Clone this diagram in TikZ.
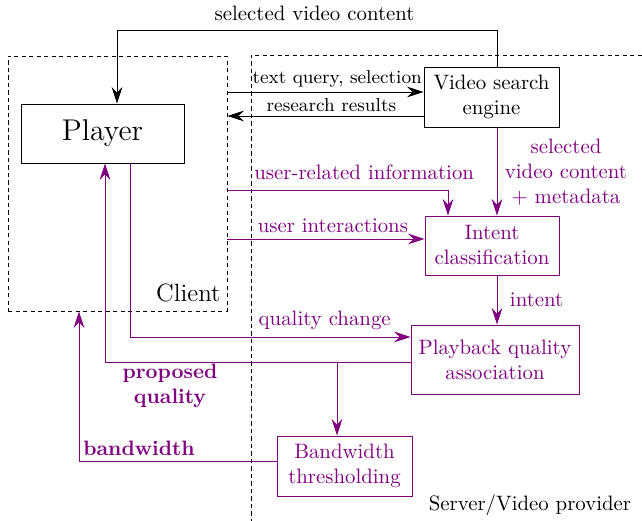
\documentclass[tikz,border=0pt]{standalone}
\usetikzlibrary{arrows.meta}
\definecolor{vidpurple}{RGB}{128,0,128}
\newlength\px
\setlength\px{0.48pt}
\begin{document}
\begin{tikzpicture}[x=0.48pt,y=-0.48pt, line width=0.45pt,
  box/.style={draw, align=center, inner sep=0pt},
  pbox/.style={box, draw=vidpurple, text=vidpurple},
  arr/.style={-{Stealth[length=8pt,width=5.2pt,inset=2.8pt]}},
  parr/.style={arr, draw=vidpurple},
  plabel/.style={text=vidpurple, align=center},
  zone/.style={line width=0.45pt, dash pattern=on 2pt off 1.6pt}]
\useasboundingbox (0,0) rectangle (642,521);

% client and server zones
\node[draw, zone, minimum width=219\px, minimum height=255\px, inner sep=0pt] (client) at (117.5,183.5) {};
\node[font=\large, anchor=south east, inner sep=3pt, yshift=1.2pt] (clientlabel) at (client.south east) {Client};
\coordinate (srvtr) at (642,55);
\coordinate (srvtl) at (251,55);
\coordinate (srvbl) at (251,521);
\draw[zone] (srvtr) -- (srvtl) -- (srvbl);
\node (serverlabel) at (530,505) {Server/Video provider};

% blocks
\node[box, minimum width=163\px, minimum height=59\px, font=\Large] (player) at (102.5,133.5) {Player};
\node[box, minimum width=135\px, minimum height=60\px] (vse) at (491.5,97) {Video search\\engine};
\node[pbox, minimum width=134\px, minimum height=59\px] (intent) at (492,245.5) {Intent\\classification};
\node[pbox, minimum width=168\px, minimum height=69\px] (pqa) at (495,359.5) {Playback quality\\association};
\node[pbox, minimum width=135\px, minimum height=60\px] (bt) at (344.5,466) {Bandwidth\\thresholding};

% routing points
\coordinate (col) at (497,0);
\coordinate (tl) at (117,30);
\coordinate (yq) at (0,92);
\coordinate (yr) at (0,116);
\coordinate (ur) at (448,190);
\coordinate (ui) at (0,239);
\coordinate (qc) at (130,337);
\coordinate (pq) at (105,362);
\coordinate (br) at (337,362);
\coordinate (bw) at (79,461);

% search engine exchanges
\draw[arr] (vse.north -| col) |- (tl) node[pos=0.74, above, inner sep=4pt] {selected video content} -- (player.north -| tl);
\draw[arr] (client.east |- yq) -- node[above, pos=0.56, font=\small, inner sep=2pt] {text query, selection} (vse.west |- yq);
\draw[arr] (vse.west |- yr) -- node[above, pos=0.47, font=\small, inner sep=2pt] {research results} (client.east |- yr);

% purple processing chain
\draw[parr] (vse.south -| col) -- (intent.north -| col);
\node[plabel] (metalabel) at (566,172) {selected\\video content\\+ metadata};
\draw[parr] (client.east |- ur) -| node[pos=0.31, above, plabel, inner sep=4.5pt] {user-related information} (intent.north -| ur);
\draw[parr] (client.east |- ui) -- node[pos=0.535, above, plabel, inner sep=3pt] {user interactions} (intent.west |- ui);
\draw[parr] (intent.south -| col) -- node[right, plabel, inner sep=6pt] {intent} (pqa.north -| col);
\draw[parr] (player.south -| qc) |- node[pos=0.847, above, plabel, inner sep=3pt] {quality change} (pqa.west |- qc);
\draw[parr] (pqa.west |- pq) -| (player.south -| pq);
\node[plabel, font=\bfseries] (pqlabel) at (170,386) {proposed\\quality};
\draw[parr] (br) -- (bt.north -| br);
\draw[parr] (bt.west |- bw) -| (client.south -| bw);
\node[plabel, font=\bfseries] (bwlabel) at (139,448) {bandwidth};
\end{tikzpicture}
\end{document}
